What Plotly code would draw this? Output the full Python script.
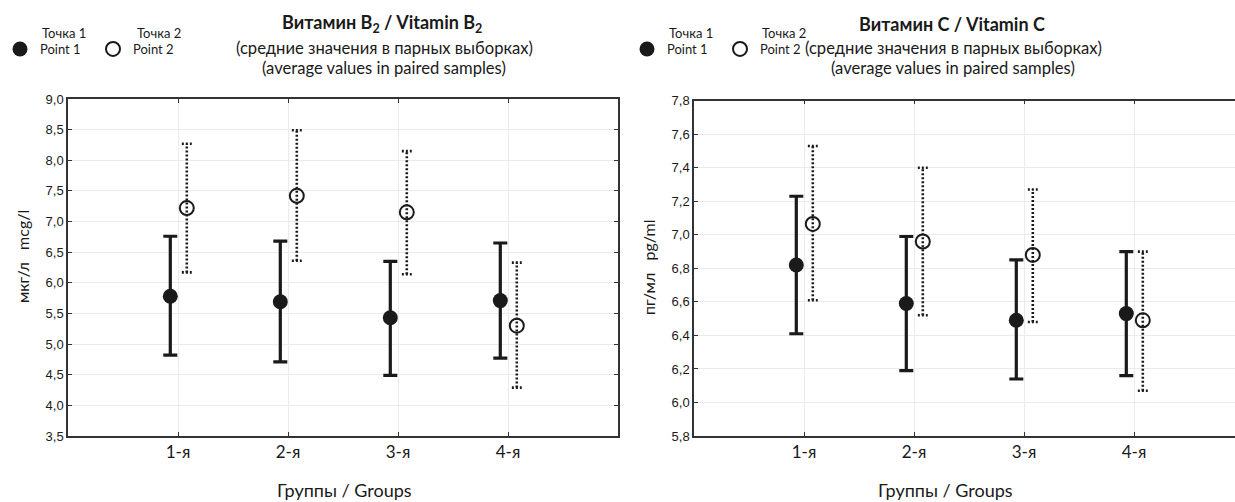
import plotly.graph_objects as go

# ---------------- data ----------------
groups = ["1-я", "2-я", "3-я", "4-я"]
group_pos = [1, 2, 3, 4]

b2_p1_mean = [5.78, 5.69, 5.43, 5.71]
b2_p1_hi = [6.76, 6.68, 6.35, 6.65]
b2_p1_lo = [4.82, 4.71, 4.49, 4.77]
b2_p2_mean = [7.22, 7.42, 7.15, 5.30]
b2_p2_hi = [8.27, 8.49, 8.15, 6.33]
b2_p2_lo = [6.17, 6.36, 6.14, 4.29]

c_p1_mean = [6.82, 6.59, 6.49, 6.53]
c_p1_hi = [7.23, 6.99, 6.85, 6.90]
c_p1_lo = [6.41, 6.19, 6.14, 6.16]
c_p2_mean = [7.065, 6.96, 6.88, 6.49]
c_p2_hi = [7.53, 7.40, 7.27, 6.90]
c_p2_lo = [6.61, 6.52, 6.48, 6.07]

W, H = 1235, 502
TXT = "Lato"
NUM = "Liberation Sans"
INK = "#1a1a1a"

OFF1, OFF2, CAP = -0.07, 0.08, 0.045

fig = go.Figure()


def add_panel(xa, ya, legend, m1, hi1, lo1, m2, hi2, lo2):
    x1 = [p + OFF1 for p in group_pos]
    x2 = [p + OFF2 for p in group_pos]
    wx, wy, cx, cy = [], [], [], []
    for xx, h, l in zip(x2, hi2, lo2):
        wx += [xx, xx, None]
        wy += [l, h, None]
        cx += [xx - CAP, xx + CAP, None, xx - CAP, xx + CAP, None]
        cy += [h, h, None, l, l, None]
    fig.add_trace(go.Scatter(x=wx, y=wy, mode="lines", xaxis=xa, yaxis=ya,
                             line=dict(color=INK, width=2.6, dash="2px,2px"),
                             showlegend=False, hoverinfo="skip"))
    fig.add_trace(go.Scatter(x=cx, y=cy, mode="lines", xaxis=xa, yaxis=ya,
                             line=dict(color=INK, width=2.6, dash="2px,2px"),
                             showlegend=False, hoverinfo="skip"))
    fig.add_trace(go.Scatter(
        x=x1, y=m1, mode="markers", xaxis=xa, yaxis=ya, name="Point 1",
        legend=legend,
        marker=dict(symbol="circle", size=15, color=INK),
        error_y=dict(type="data", symmetric=False,
                     array=[h - m for h, m in zip(hi1, m1)],
                     arrayminus=[m - l for m, l in zip(m1, lo1)],
                     thickness=3.2, width=7, color=INK)))
    fig.add_trace(go.Scatter(
        x=x2, y=m2, mode="markers", xaxis=xa, yaxis=ya, name="Point 2",
        legend=legend,
        marker=dict(symbol="circle-open", size=14, color=INK,
                    line=dict(width=2, color=INK))))


add_panel("x", "y", "legend", b2_p1_mean, b2_p1_hi, b2_p1_lo,
          b2_p2_mean, b2_p2_hi, b2_p2_lo)
add_panel("x2", "y2", "legend2", c_p1_mean, c_p1_hi, c_p1_lo,
          c_p2_mean, c_p2_hi, c_p2_lo)


def px_x(v):
    return v / W


def px_y(v):
    return 1 - v / H


axis_common = dict(showline=True, linecolor="#333333", linewidth=1.5,
                   showgrid=True, gridcolor="#ebebeb", gridwidth=1,
                   ticks="inside", ticklen=4, tickcolor="#333333",
                   zeroline=False, automargin=False)

fig.update_layout(
    template="none",
    width=W, height=H, autosize=False,
    margin=dict(l=0, r=0, t=0, b=0, pad=0),
    paper_bgcolor="white", plot_bgcolor="white",
    separators=", ",
    font=dict(family=TXT, color=INK),
    xaxis=dict(domain=[px_x(68), px_x(618)], range=[0, 5],
               tickvals=group_pos, ticktext=groups, mirror="ticks",
               tickfont=dict(family=TXT, size=17, color=INK),
               anchor="y", **axis_common),
    yaxis=dict(domain=[px_y(436), px_y(99)], range=[3.5, 9.0], dtick=0.5,
               tickformat=".1f", mirror="ticks",
               tickfont=dict(family=NUM, size=13, color=INK),
               anchor="x", **axis_common),
    xaxis2=dict(domain=[px_x(694), 1.0], range=[0, (W - 694) / 110],
                tickvals=group_pos, ticktext=groups, mirror="ticks",
                tickfont=dict(family=TXT, size=17, color=INK),
                anchor="y2", **axis_common),
    yaxis2=dict(domain=[px_y(436), px_y(100.7)], range=[5.8, 7.8], dtick=0.2,
                tickformat=".1f", mirror=False,
                tickfont=dict(family=NUM, size=13, color=INK),
                anchor="x2", **axis_common),
    legend=dict(orientation="h", x=px_x(0), xanchor="left", y=px_y(49),
                yanchor="middle", font=dict(family=TXT, size=13, color=INK),
                bgcolor="rgba(0,0,0,0)", entrywidth=48, itemclick=False),
    legend2=dict(orientation="h", x=px_x(627), xanchor="left", y=px_y(49),
                 yanchor="middle", font=dict(family=TXT, size=13, color=INK),
                 bgcolor="rgba(0,0,0,0)", entrywidth=48, itemclick=False),
)

ann = []


def text(x, y, s, size, xanchor="center", **kw):
    ann.append(dict(x=px_x(x), y=px_y(y), xref="paper", yref="paper", text=s,
                    showarrow=False, xanchor=xanchor, yanchor="middle",
                    font=dict(family=TXT, size=size, color=INK), **kw))


# titles
text(382, 24, "<b>Витамин B<sub>2</sub> / Vitamin B<sub>2</sub></b>", 18)
text(384, 48, "(средние значения в парных выборках)", 16.6)
text(384, 68, "(average values in paired samples)", 16.6)
text(952, 24, "<b>Витамин C / Vitamin C</b>", 18)
text(953, 48, "(средние значения в парных выборках)", 16.6)
text(953, 68, "(average values in paired samples)", 16.6)
# legend headers
text(40, 33, "Точка 1", 13, xanchor="left")
text(135, 33, "Точка 2", 13, xanchor="left")
text(667, 33, "Точка 1", 13, xanchor="left")
text(760, 33, "Точка 2", 13, xanchor="left")
# axis titles
text(22, 257, "мкг/л\u00a0\u00a0\u00a0mcg/l", 16, textangle=-90)
text(648, 267, "пг/мл\u00a0\u00a0\u00a0pg/ml", 16, textangle=-90)
text(344, 490, "Группы / Groups", 18)
text(945, 490, "Группы / Groups", 18)

fig.update_layout(annotations=ann)

fig.write_html("out.html", config={"displayModeBar": False},
               post_script="document.body.style.margin='0';"
                           "document.body.style.overflow='hidden';")
